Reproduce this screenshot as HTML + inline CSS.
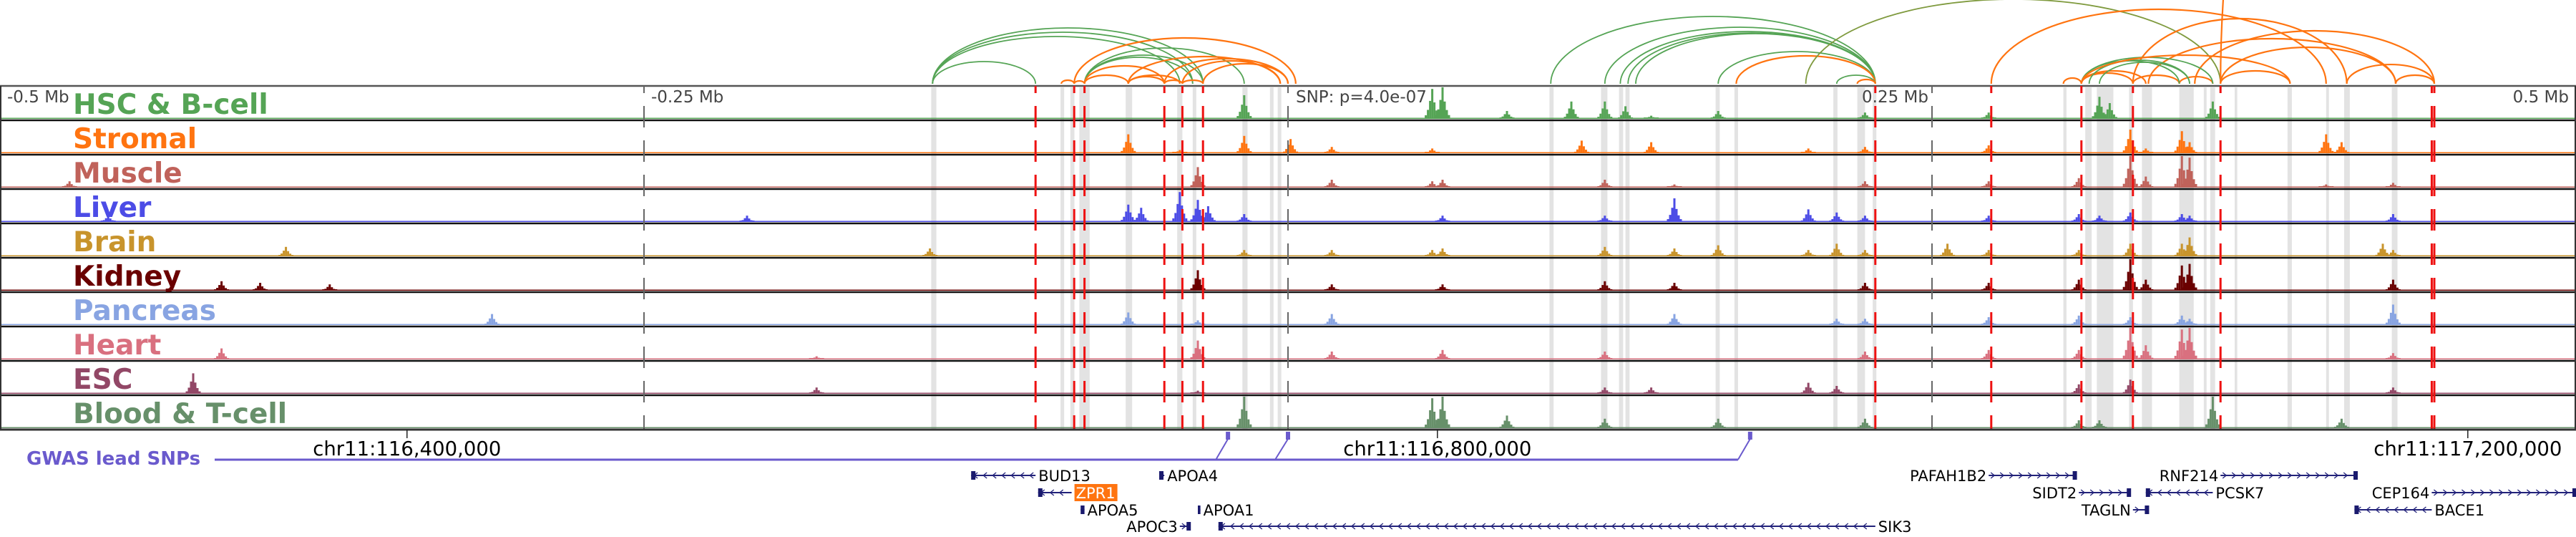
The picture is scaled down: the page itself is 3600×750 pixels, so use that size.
<!DOCTYPE html>
<html><head><meta charset="utf-8">
<style>
html,body{margin:0;padding:0;background:#fff;}
svg{display:block;font-family:"DejaVu Sans","Liberation Sans",sans-serif;}
</style></head>
<body>
<svg id="fig" width="3600" height="750" viewBox="0 0 3600 750" xmlns="http://www.w3.org/2000/svg">
<g id="bands"></g>
<g id="signals"></g>
<g id="borders"></g>
<g id="vlines"></g>
<g id="arcs"></g>
<g id="labels"></g>
<g id="axis"></g>
<g id="gwas"></g>
<g id="genes"></g>
</svg>
<script>
// ---- data (positions in kb from window start; window = 1000 kb) ----
const trackNames = ["HSC & B-cell","Stromal","Muscle","Liver","Brain","Kidney","Pancreas","Heart","ESC","Blood & T-cell"];
const trackColors = ["#55a455","#ff7410","#c0625a","#4c4ce6","#c8942c","#6a0000","#88a4e2","#d9707f","#924766","#67906a"];
const loci = [27,42,75,86,101,111,128,191,290,317,361,438,443,458,465,469,483,501,517,556,560,585,610,614,623,631,641,650,667,702,713,724,756,772,807,815,819,827,833,847,850,859,903,909,925,929];
const hsc     = {16:.75,19:.95,20:1.0,21:.25,22:.55,24:.55,25:.4,26:.1,28:.25,31:.2,33:.2,35:.7,36:.5,41:.55};
const stromal = {11:.6,13:.1,16:.55,17:.45,18:.2,19:.15,23:.4,26:.35,29:.15,31:.2,33:.25,37:.75,38:.15,39:.7,40:.35,42:.6,43:.35};
const muscle  = {0:.2,14:.65,18:.25,19:.2,20:.25,24:.25,27:.1,31:.2,33:.2,34:.3,37:1.0,38:.35,39:1.0,40:.95,42:.1,45:.15};
const liver   = {1:.2,8:.2,11:.55,12:.45,13:.95,14:.7,15:.5,16:.25,20:.2,24:.2,27:.75,29:.4,30:.3,31:.2,33:.2,34:.25,35:.2,37:.3,39:.25,40:.2,45:.25};
const brain   = {5:.3,10:.25,16:.2,18:.2,19:.2,20:.25,24:.3,27:.25,28:.35,29:.2,30:.4,31:.2,32:.4,33:.2,34:.2,37:.4,39:.4,40:.6,44:.4,45:.2};
const kidney  = {3:.3,4:.25,6:.2,14:.65,18:.2,20:.2,24:.3,27:.25,31:.25,33:.25,34:.35,37:1.0,38:.35,39:.8,40:.85,45:.35};
const pancreas= {7:.35,11:.4,14:.15,18:.35,27:.35,30:.2,31:.2,33:.25,34:.3,37:.25,39:.3,40:.2,45:.65};
const heart   = {3:.35,9:.1,14:.6,18:.25,20:.3,24:.25,31:.25,33:.3,34:.3,37:1.0,38:.45,39:.95,40:1.0,45:.2};
const esc     = {2:.65,9:.2,14:.1,24:.2,26:.2,29:.35,30:.25,34:.3,37:.45,45:.2};
const blood   = {16:1.0,19:.95,20:1.0,21:.4,24:.3,28:.3,31:.3,34:.25,35:.25,41:1.0,43:.3};
const trackValues = [hsc,stromal,muscle,liver,brain,kidney,pancreas,heart,esc,blood];

const redLines = [402,417,421,452,459,467,728,773,808,828,862,944,945];
const grayDashed = [250,500,750];
const bandStart = [361.5,411.7,415.5,419,437,457,463,482.3,493,496,601.5,621.5,628.5,631,666,673.3,711.7,721,727,801,809.5,814,826.5,831.5,846,855.5,858,867.5,888,903,910,928.5];
const bandWidth = [2,1.4,1.6,4,2.5,2,1.4,2,1.4,1.4,1.6,2.5,1.6,1.6,1.6,1.4,1.6,3,1.4,1.2,2.5,6.4,1.5,3.9,5.6,1.1,1.9,1,1.7,1.1,2.2,2.2];

const arcStart = [362,362,362,362,421,421,421,417,438,452,459,467,412,417,421,438,438,452,459,421,
  602,623,629,632,635,667,674,713,721,701,
  773,828,852,834,862,911,930,808,808,828,846,801,808,811,815,808,862,862,808];
const arcEnd   = [402,467,463,458,483,467,463,503,497,500,497,500,417,421,438,452,458,459,467,452,
  728,728,728,728,728,728,728,728,728,862,
  903,911,945,930,930,945,945,828,833,846,859,808,859,850,850,846,1010,889,889];
const arcHeight= [31,78,72,66,50,40,37,64,38,35,32,28,5,4,12,10,12,5,5,25,
  94,79,73,71,70,45,39,12,6,118,
  104,91,74,63,51,27,12,15,18,12,10,8,37,33,30,32,700,18,40];
const arcType  = ["g","g","g","g","g","g","g","o","o","o","o","o","o","o","o","o","o","o","o","o",
  "g","g","g","g","g","g","o","g","o","v",
  "o","o","o","o","o","o","o","o","o","o","o","o","g","g","g","g","o","o","o"];

const tickLabels = ["-0.5 Mb","-0.25 Mb","SNP: p=4.0e-07","0.25 Mb","0.5 Mb"];
const chrTicks = [158,558,958];
const chrTickLabels = ["chr11:116,400,000","chr11:116,800,000","chr11:117,200,000"];
const snpPos = [476.7,500,679.4];
const snpLink = [472,495,674.7];

const geneNames = ["BUD13","ZPR1","APOA4","APOA5","APOA1","APOC3","SIK3","PAFAH1B2","RNF214","SIDT2","PCSK7","CEP164","TAGLN","BACE1"];
const geneStart = [377,403,450,419.5,465,458,473,772,862,807,833,944,828,914];
const geneEnd   = [402,416,452,421,466,462,728,806,915,827,859,1000,834,944];
const geneStrand= ["-","-","-","-","-","+","-","+","+","+","-","+","+","-"];
const geneRow   = [0,1,0,2,2,3,3,0,0,1,1,1,2,2];
const geneLabelSide = ["r","r","r","r","r","l","r","l","l","l","r","l","l","r"];

// ---- scales ----
const X = kb => kb*3.6;
const NS = "http://www.w3.org/2000/svg";
const TOP = 120, TH = 48;
function mk(tag, attrs, parent){const e=document.createElementNS(NS,tag);for(const k in attrs)e.setAttribute(k,attrs[k]);parent.appendChild(e);return e;}
const arcColors = {g:"#55a455",o:"#ff7410",v:"#7f9a3e"};

// bands
const gB=document.getElementById('bands');
bandStart.forEach((s,i)=>{
  const r=mk('rect',{x:X(s),y:122,width:Math.max(X(bandWidth[i]),3),height:478,fill:"#e3e3e3"},gB);
  
  
});

// signals
const gS=document.getElementById('signals');
trackValues.forEach((vals,t)=>{
  const g=mk('g',{fill:trackColors[t]},gS);
  
  
  const base=TOP+TH*(t+1)-2;
  mk('rect',{x:0,y:base-1.5,width:3600,height:1.5},g);
  for(const k in vals){
    const cx=X(loci[k]), v=vals[k], h=v*44;
    const parts=[[0,1],[-3,.6],[3,.55],[-6,.3],[6,.28],[-9,.12],[9,.12]];
    parts.forEach(p=>{
      const hh=Math.max(h*p[1],2);
      const b=mk('rect',{x:cx+p[0]-1.5,y:base-hh,width:3,height:hh},g);
      
      
    });
  }
});

// borders
const gBo=document.getElementById('borders');
for(let i=0;i<=10;i++){
  mk('line',{x1:0,x2:3600,y1:TOP+TH*i,y2:TOP+TH*i,stroke:i==0?"#555":"#111","stroke-width":2.5},gBo);
}
mk('line',{x1:1,x2:1,y1:120,y2:600,stroke:"#333","stroke-width":2},gBo);
mk('line',{x1:3599,x2:3599,y1:120,y2:600,stroke:"#333","stroke-width":2},gBo);

// vertical marker lines
const gV=document.getElementById('vlines');
grayDashed.forEach(p=>{
  const l=mk('line',{x1:X(p),x2:X(p),y1:120,y2:600,stroke:"#666","stroke-width":2,"stroke-dasharray":"30 18","stroke-dashoffset":20},gV);
  
  
});
redLines.forEach(p=>{
  const l=mk('line',{x1:X(p),x2:X(p),y1:120,y2:600,stroke:"#ee1111","stroke-width":3,"stroke-dasharray":"30 18","stroke-dashoffset":20},gV);
  
  
});

// arcs
const gA=document.getElementById('arcs');
const clip=mk('clipPath',{id:'arcclip'},mk('defs',{},gA));
mk('rect',{x:0,y:0,width:3600,height:118},clip);
const gAc=mk('g',{'clip-path':'url(#arcclip)'},gA);
arcStart.forEach((s,i)=>{
  const x1=X(s),x2=X(arcEnd[i]),rx=(x2-x1)/2,ry=arcHeight[i],y0=117;
  const p=mk('path',{d:`M${x1},${y0} A${rx},${ry} 0 0 1 ${x2},${y0}`,fill:"none",stroke:arcColors[arcType[i]],"stroke-width":arcType[i]=="o"?2.2:1.8},gAc);
  
  
});

// labels
const gL=document.getElementById('labels');
trackNames.forEach((n,i)=>{
  const t=mk('text',{x:102,y:TOP+TH*i+39,fill:trackColors[i],"font-size":39,"font-weight":"bold"},gL);
  t.textContent=n;
  
  
});
const tickX=[10,910,1811,2695,3590], tickAnchor=["start","start","start","end","end"];
tickLabels.forEach((s,i)=>{
  const t=mk('text',{x:tickX[i],y:143,fill:"#444","font-size":23,"text-anchor":tickAnchor[i]},gL);
  t.textContent=s;
  
  
});

// chr axis
const gX=document.getElementById('axis');
mk('line',{x1:0,x2:3600,y1:600,y2:600,stroke:"#333","stroke-width":3},gX);
chrTicks.forEach((p,i)=>{
  mk('line',{x1:X(p),x2:X(p),y1:600,y2:612,stroke:"#222","stroke-width":1.5},gX);
  const t=mk('text',{x:X(p),y:636,"font-size":27.5,"text-anchor":"middle",fill:"#000"},gX);
  t.textContent=chrTickLabels[i];
  
  
});

// GWAS
const gG=document.getElementById('gwas');
const gt=mk('text',{x:37,y:649,"font-size":26,"font-weight":"bold",fill:"#6a5acd"},gG);
gt.textContent="GWAS lead SNPs";


mk('line',{x1:300,x2:X(snpLink[2]),y1:642,y2:642,stroke:"#6a5acd","stroke-width":3},gG);
snpPos.forEach((p,i)=>{
  mk('line',{x1:X(snpLink[i]),y1:642,x2:X(p),y2:613,stroke:"#6a5acd","stroke-width":2},gG);
  const r=mk('rect',{x:X(p)-3,y:603,width:6,height:11,fill:"#6a5acd"},gG);
  
  
});

// genes
const gN=document.getElementById('genes');
const rowY=[664,688,712,735];
geneNames.forEach((n,i)=>{
  const g=mk('g',{},gN);
  
  
  const x1=X(geneStart[i]),x2=X(geneEnd[i]),y=rowY[geneRow[i]];
  mk('line',{x1:x1,x2:x2,y1:y,y2:y,stroke:"#22227a","stroke-width":2},g);
  for(let cx=x1+6;cx<x2-3;cx+=13){
    const d=geneStrand[i]=="+"?`M${cx-3},${y-4} L${cx+2},${y} L${cx-3},${y+4}`:`M${cx+3},${y-4} L${cx-2},${y} L${cx+3},${y+4}`;
    mk('path',{d:d,fill:"none",stroke:"#22227a","stroke-width":1.3},g);
  }
  const bx=geneStrand[i]=="-"?x1:x2-5;
  mk('rect',{x:bx,y:y-6,width:Math.min(6,x2-x1),height:12,fill:"#1a1a6e"},g);
  const lx=geneLabelSide[i]=="r"?x2+4:x1-3;
  if(n=="ZPR1"){ mk('rect',{x:lx,y:y-12,width:60,height:24,fill:"#ff7410"},g); }
  const t=mk('text',{x:lx+(n=="ZPR1"?2:0),y:y+8,"font-size":21,"text-anchor":geneLabelSide[i]=="r"?"start":"end",fill:n=="ZPR1"?"#fff":"#000"},g);
  t.textContent=n;
});
</script>
</body></html>
